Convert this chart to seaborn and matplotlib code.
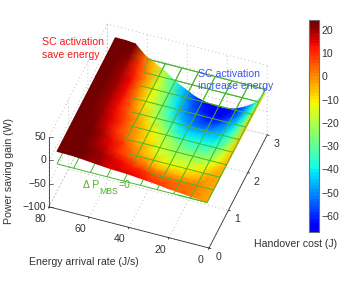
import numpy as np
import matplotlib
matplotlib.use("Agg")
import matplotlib.pyplot as plt
import seaborn as sns
from matplotlib.colors import ListedColormap, Normalize
from matplotlib.colorbar import ColorbarBase
from matplotlib.tri import Triangulation
from mpl_toolkits.mplot3d import proj3d

# ---------- data ----------
energy_rate = [1, 6, 11, 16, 21, 26, 31, 36, 41, 46, 51, 56, 61, 66, 71, 76]
handover_cost = [0, .25, .5, .75, 1, 1.25, 1.5, 1.75, 2, 2.25, 2.5, 2.75, 3]
gain_y000 = [-3, 0, 2, 4, 6, 9, 11, 13, 15, 16, 17, 19, 21, 23, 24, 24]
gain_y025 = [-3, 0, 2, 2, 3, 4, 6, 9, 11, 14, 17, 19, 22, 23, 24, 24]
gain_y050 = [-4, -2, -4, -5, -5, -4, -3, 0, 3, 7, 11, 16, 20, 23, 24, 24]
gain_y075 = [-4, -5, -9, -11, -12, -12, -11, -7, -3, 2, 9, 13, 20, 23, 24, 24]
gain_y100 = [-5, -9, -15, -18, -18, -18, -17, -14, -7, -3, 3, 10, 17, 22, 24, 24]
gain_y125 = [-5, -14, -22, -24, -24, -24, -21, -16, -10, -5, 1, 9, 15, 21, 24, 24]
gain_y150 = [-6, -18, -27, -31, -32, -31, -27, -21, -14, -8, -1, 7, 14, 19, 24, 24]
gain_y175 = [-6, -22, -33, -38, -38, -38, -38, -30, -22, -15, -7, 4, 13, 19, 23, 24]
gain_y200 = [-7, -26, -37, -43, -44, -44, -43, -38, -29, -20, -10, 1, 13, 19, 23, 24]
gain_y225 = [-7, -28, -41, -48, -51, -52, -50, -45, -37, -24, -12, 0, 13, 20, 23, 24]
gain_y250 = [-8, -32, -45, -52, -58, -59, -55, -50, -40, -26, -13, -1, 11, 20, 24, 24]
gain_y275 = [-9, -36, -49, -59, -63, -63, -60, -54, -43, -30, -16, -4, 8, 22, 24, 24]
gain_y300 = [-10, -38, -52, -62, -67, -67, -64, -58, -47, -36, -20, -8, 3, 23, 25, 25]
gain_rows = [gain_y000, gain_y025, gain_y050, gain_y075, gain_y100, gain_y125, gain_y150,
             gain_y175, gain_y200, gain_y225, gain_y250, gain_y275, gain_y300]
plane_level = -3
plane_hidden_above = 4
plane_x_lines = [1, 9.33, 17.67, 26, 34.33, 42.67, 51, 59.33, 67.67, 76]
plane_y_lines = [0, .333, .667, 1, 1.333, 1.667, 2, 2.333, 2.667, 3]
x_ticks = [0, 20, 40, 60, 80]
y_ticks = [0, 1, 2, 3]
z_ticks = [-100, -50, 0, 50]
cbar_ticks = [20, 10, 0, -10, -20, -30, -40, -50, -60]
cbar_range = (-67, 24.3)

# ---------- style ----------
W, H = 346, 282
sns.set_style("white")
plt.rcParams["font.family"] = ["Liberation Sans", "DejaVu Sans"]
FS = 7.6
DARK = "#333333"
GRID = "#a8a8a8"
GREEN = "#4ab52c"

fig = plt.figure(figsize=(W / 100, H / 100), dpi=100, facecolor="white")
ax = fig.add_axes([0, 0, 1, 1], projection="3d", proj_type="ortho")
ax.view_init(elev=45, azim=-70)
ax.set_xlim(80, 0)
ax.set_ylim(0, 3)
ax.set_zlim(-100, 50)
ax.set_xticks(x_ticks)
ax.set_yticks(y_ticks)
ax.set_zticks(z_ticks)
ax.set_xticklabels([])
ax.set_yticklabels([])
ax.set_zticklabels([])
ax.patch.set_alpha(0)
for a in (ax.xaxis, ax.yaxis, ax.zaxis):
    a.set_pane_color((1, 1, 1, 0))
    a.pane.set_edgecolor((1, 1, 1, 0))
    a.line.set_color(DARK)
    a.line.set_linewidth(0.6)
    a._axinfo["grid"].update(color=GRID, linestyle=(0, (1, 3.5)), linewidth=0.6)
    a._axinfo["tick"].update(inward_factor=0.15, outward_factor=0.0, linewidth={True: .6, False: .5}, color=DARK)
# the z axis is redrawn on the left-hand edge below
ax.zaxis.line.set_color((0, 0, 0, 0))
ax.tick_params(axis="z", color=(0, 0, 0, 0))


def project(x, y, z):
    xs, ys, _ = proj3d.proj_transform(np.ravel(x), np.ravel(y), np.ravel(z), ax.get_proj())
    d = ax.transData.transform(np.c_[xs, ys])
    return np.c_[d[:, 0], H - d[:, 1]]


def fit_axes():
    """Place the 3D box so that two of its corners land on the reference pixels."""
    zoom = 1.0
    ax.set_box_aspect((1, 1, 0.578), zoom=zoom)
    pos = [0, 0, 1, 1]
    for _ in range(3):
        fig.canvas.draw()
        p = project(np.array([0.0, 80.0]), np.array([0.0, 0.0]), np.array([-100.0, -100.0]))
        cur = np.hypot(*(p[0] - p[1]))
        zoom *= np.hypot(160, 41) / cur
        ax.set_box_aspect((1, 1, 0.578), zoom=zoom)
        fig.canvas.draw()
        p = project(np.array([0.0]), np.array([0.0]), np.array([-100.0]))
        dx, dy = 209 - p[0, 0], 248 - p[0, 1]
        pos = [pos[0] + dx / W, pos[1] - dy / H, 1, 1]
        ax.set_position(pos)


fit_axes()
fig.canvas.draw()

# overlay in reference pixels, holding the projected surface
ov = fig.add_axes([0, 0, 1, 1], facecolor="none")
ov.set_xlim(0, W)
ov.set_ylim(H, 0)
ov.axis("off")

lut = matplotlib.colormaps["jet"](np.linspace(0.10, 1.0, 64))
lut[-4:, :3] *= 0.9
cmap = ListedColormap(lut)
norm = Normalize(*cbar_range)
ex = np.array(energy_rate, float)
ey = np.array(handover_cost, float)
Z = np.array(gain_rows, float)


def surf_at(x, y):
    ix = np.clip(np.searchsorted(ex, x) - 1, 0, len(ex) - 2)
    iy = np.clip(np.searchsorted(ey, y) - 1, 0, len(ey) - 2)
    tx = (x - ex[ix]) / (ex[ix + 1] - ex[ix])
    ty = (y - ey[iy]) / (ey[iy + 1] - ey[iy])
    return (Z[iy, ix] * (1 - tx) * (1 - ty) + Z[iy, ix + 1] * tx * (1 - ty)
            + Z[iy + 1, ix] * (1 - tx) * ty + Z[iy + 1, ix + 1] * tx * ty)


def plane_line(xa, ya, over):
    t = np.linspace(0, 1, 200)
    x = xa[0] + (xa[1] - xa[0]) * t
    y = ya[0] + (ya[1] - ya[0]) * t
    p = project(x, y, np.full_like(x, plane_level))
    if over:
        p = p.copy()
        p[surf_at(x, y) > plane_hidden_above] = np.nan
    return p


for over, zo in ((False, 1), (True, 3)):
    for xv in plane_x_lines:
        p = plane_line((xv, xv), (0, 3), over)
        ov.plot(p[:, 0], p[:, 1], color=GREEN, lw=0.7, zorder=zo, solid_capstyle="butt")
    for yv in plane_y_lines:
        p = plane_line((1, 76), (yv, yv), over)
        ov.plot(p[:, 0], p[:, 1], color=GREEN, lw=0.7, zorder=zo, solid_capstyle="butt")

GX, GY = np.meshgrid(ex, ey)
ps = project(GX, GY, Z)
tri = Triangulation(ps[:, 0], ps[:, 1], triangles=np.vstack(
    [[[j * 16 + i, j * 16 + i + 1, (j + 1) * 16 + i],
      [j * 16 + i + 1, (j + 1) * 16 + i + 1, (j + 1) * 16 + i]]
     for j in range(12) for i in range(15)]))
ov.tripcolor(tri, Z.ravel(), shading="gouraud", cmap=cmap, norm=norm, zorder=2)

# z axis on the left-hand edge
pz = project([80, 80], [0, 0], [-100, 50])
ov.plot(pz[:, 0], pz[:, 1], color=DARK, lw=0.6, zorder=0)

# tick labels
for t in x_ticks:
    p = project([t], [0], [-100])[0]
    ov.text(p[0] - 9, p[1] + 12, str(t), fontsize=FS, color=DARK, ha="center", va="center")
for t in y_ticks:
    p = project([0], [t], [-100])[0]
    ov.text(p[0] + 9, p[1] + 9, str(t), fontsize=FS, color=DARK, ha="center", va="center")
for t in z_ticks:
    p = project([80], [0], [t])[0]
    ov.plot([p[0], p[0] + 4], [p[1], p[1]], color=DARK, lw=0.5, zorder=0)
    ov.text(p[0] - 3, p[1], f"{t}".replace("-", "\u2212"), fontsize=FS, color=DARK, ha="right", va="center")

ov.text(84, 262, "Energy arrival rate (J/s)", fontsize=FS, color=DARK, ha="center", va="center")
ov.text(296, 244, "Handover cost (J)", fontsize=FS, color=DARK, ha="center", va="center")
ov.text(9, 171, "Power saving gain (W)", fontsize=FS, color=DARK, ha="center", va="center", rotation=90)
ov.text(42, 42, "SC activation", fontsize=FS, color="#ee1c1c", ha="left", va="center", zorder=5)
ov.text(42, 55, "save energy", fontsize=FS, color="#ee1c1c", ha="left", va="center", zorder=5)
ov.text(198, 74, "SC activation", fontsize=FS, color="#3c55f0", ha="left", va="center", zorder=5)
ov.text(198, 86, "increase energy", fontsize=FS, color="#3c55f0", ha="left", va="center", zorder=5)
ov.text(83, 185, "\u0394 P", fontsize=FS, color=GREEN, ha="left", va="center", zorder=5)
ov.text(99, 191, "MBS", fontsize=6.2, color=GREEN, ha="left", va="center", zorder=5)
ov.text(118, 185, "=0", fontsize=FS, color=GREEN, ha="left", va="center", zorder=5)

# colour bar
cax = fig.add_axes([309 / W, 1 - 232 / H, 9.5 / W, 212 / H])
cb = ColorbarBase(cax, cmap=cmap, norm=norm, ticks=cbar_ticks)
cb.ax.set_yticklabels([f"{t}".replace("-", "\u2212") for t in cbar_ticks])
cb.ax.tick_params(labelsize=FS, colors=DARK, direction="in", length=1.8, width=0.5, pad=2, left=True, right=True)
cb.outline.set_edgecolor("#707070")
cb.outline.set_linewidth(0.8)

fig.savefig("out.png", dpi=100, facecolor="white")
